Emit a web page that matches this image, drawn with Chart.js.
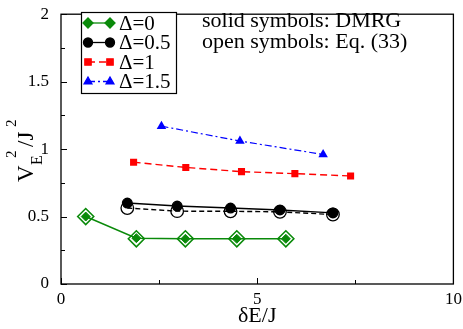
<!DOCTYPE html>
<html>
<head>
<meta charset="utf-8">
<script src="https://cdn.jsdelivr.net/npm/chart.js@4"></script>
<style>
html,body{margin:0;padding:0;background:#fff;}
#wrap{width:463px;height:329px;}
</style>
</head>
<body>
<div id="wrap"><canvas id="c" width="463" height="329"></canvas></div>
<script>
// data
const seriesLabels = ['Δ=0','Δ=0.5','Δ=1','Δ=1.5'];
const dE0 = [0.63,1.92,3.17,4.48,5.73];
const v0Dmrg = [0.50,0.34,0.335,0.335,0.335];
const v0Eq = [0.50,0.335,0.335,0.335,0.335];
const dE05 = [1.69,2.96,4.32,5.58,6.93];
const v05Dmrg = [0.60,0.578,0.563,0.549,0.527];
const v05Eq = [0.563,0.54,0.539,0.535,0.515];
const dE1 = [1.85,3.18,4.60,5.96,7.38];
const v1Dmrg = [0.903,0.864,0.833,0.818,0.801];
const dE15 = [2.56,4.56,6.68];
const v15Dmrg = [1.17,1.06,0.96];
const xTicks = [0,5,10];
const yTicks = [0,0.5,1,1.5,2];
const notes = ['solid symbols: DMRG','open symbols: Eq. (33)'];

const SERIF = '"Liberation Serif","DejaVu Serif",serif';
const GREEN = '#0a8a0a';

function pts(xs,ys){ return xs.map((x,i)=>({x:x,y:ys[i]})); }

const datasets = [
  {label:seriesLabels[0]+' eq',data:pts(dE0,v0Eq),showLine:false,pointStyle:'rectRot',pointRadius:8,
   borderColor:GREEN,backgroundColor:'rgba(0,0,0,0)',pointBorderWidth:1.6},
  {label:seriesLabels[0],data:pts(dE0,v0Dmrg),showLine:true,pointStyle:'rectRot',pointRadius:4.5,
   borderColor:GREEN,backgroundColor:GREEN,borderWidth:1.5,pointBorderWidth:1},
  {label:seriesLabels[1]+' eq',data:pts(dE05,v05Eq),showLine:true,pointStyle:'circle',pointRadius:6.3,
   borderColor:'#000',backgroundColor:'rgba(0,0,0,0)',borderWidth:1.4,borderDash:[5,3],pointBorderWidth:1.3},
  {label:seriesLabels[1],data:pts(dE05,v05Dmrg),showLine:true,pointStyle:'circle',pointRadius:4.8,
   borderColor:'#000',backgroundColor:'#000',borderWidth:1.4},
  {label:seriesLabels[2],data:pts(dE1,v1Dmrg),showLine:true,pointStyle:'rect',pointRadius:5,
   borderColor:'#ff0000',backgroundColor:'#ff0000',borderWidth:1.4,borderDash:[7,4],pointBorderWidth:0},
  {label:seriesLabels[3],data:pts(dE15,v15Dmrg),showLine:true,pointStyle:'triangle',pointRadius:5.5,
   borderColor:'#0000ff',backgroundColor:'#0000ff',borderWidth:1.2,borderDash:[7,3,2,3],pointBorderWidth:0}
];
datasets.forEach(d=>{d.pointBorderColor=d.borderColor;d.pointBackgroundColor=d.backgroundColor;});

const frame = {
  id:'frame',
  afterDraw(ch){
    const ctx=ch.ctx, a=ch.chartArea, xs=ch.scales.x, ys=ch.scales.y;
    ctx.save();
    ctx.strokeStyle='#000'; ctx.lineWidth=1.3; ctx.setLineDash([]);
    ctx.strokeRect(a.left,a.top,a.right-a.left,a.bottom-a.top);
    ctx.lineWidth=1;
    for(let v=0;v<=10;v+=2.5){
      const x=Math.round(xs.getPixelForValue(v))+0.5, L=(v%5===0)?6:4;
      ctx.beginPath();ctx.moveTo(x,a.bottom);ctx.lineTo(x,a.bottom-L);ctx.stroke();
    }
    for(let v=0;v<=2;v+=0.25){
      const y=Math.round(ys.getPixelForValue(v))+0.5, L=(Math.abs(v*2-Math.round(v*2))<1e-6)?6:4;
      ctx.beginPath();ctx.moveTo(a.left,y);ctx.lineTo(a.left+L,y);ctx.stroke();
    }
    // y title V_E^2/J^2
    ctx.translate(33,182); ctx.rotate(-Math.PI/2);
    ctx.fillStyle='#000'; ctx.textBaseline='alphabetic';
    ctx.font='23px '+SERIF; ctx.fillText('V',0,0);
    ctx.font='16px '+SERIF; ctx.fillText('E',17,9);
    ctx.font='15px '+SERIF; ctx.fillText('2',24,-17);
    ctx.font='23px '+SERIF; ctx.fillText('/J',35,0);
    ctx.font='15px '+SERIF; ctx.fillText('2',55,-17);
    ctx.restore();

    // legend box
    ctx.save();
    const bx=81, by=12, bw=95, bh=81;
    ctx.fillStyle='#fff'; ctx.fillRect(bx,by,bw,bh);
    ctx.strokeStyle='#000'; ctx.lineWidth=1.2; ctx.strokeRect(bx+0.5,by+0.5,bw,bh);
    const order=[1,3,4,5];
    order.forEach((di,i)=>{
      const d=datasets[di], y=by+11+i*19.5;
      ctx.strokeStyle=d.borderColor; ctx.lineWidth=1.3;
      ctx.setLineDash(d.borderDash||[]);
      ctx.beginPath();ctx.moveTo(88,y);ctx.lineTo(110,y);ctx.stroke();
      ctx.setLineDash([]);
      const opt={pointStyle:d.pointStyle,radius:d.pointStyle==='rectRot'?5:4.5,borderWidth:1};
      ctx.fillStyle=d.backgroundColor; ctx.strokeStyle=d.borderColor;
      Chart.helpers.drawPoint(ctx,opt,88,y);
      Chart.helpers.drawPoint(ctx,opt,110,y);
      ctx.fillStyle='#000'; ctx.font='21px '+SERIF; ctx.textBaseline='middle';
      ctx.fillText(seriesLabels[i],119,y+1);
    });
    ctx.font='22px '+SERIF; ctx.textBaseline='middle';
    ctx.fillText(notes[0],202,21);
    ctx.fillText(notes[1],202,42);
    ctx.restore();
  }
};

new Chart(document.getElementById('c'),{
  type:'scatter',
  data:{datasets:datasets},
  options:{
    responsive:false,animation:false,
    layout:{padding:{top:7,right:7,left:0,bottom:0}},
    plugins:{legend:{display:false},tooltip:{enabled:false}},
    scales:{
      x:{type:'linear',min:0,max:10,
        afterBuildTicks:s=>{s.ticks=xTicks.map(v=>({value:v}));},
        afterFit:s=>{s.height=45;},
        grid:{display:false},border:{display:false},
        ticks:{color:'#000',font:{family:SERIF,size:17},padding:-3,maxRotation:0,callback:v=>String(v)},
        title:{display:true,text:'δE/J',color:'#000',font:{family:SERIF,size:22},padding:{top:-6,bottom:0}}},
      y:{type:'linear',min:0,max:2,
        afterBuildTicks:s=>{s.ticks=yTicks.map(v=>({value:v}));},
        afterFit:s=>{s.width=61;},
        grid:{display:false},border:{display:false},
        ticks:{color:'#000',font:{family:SERIF,size:17},padding:4,callback:v=>String(v)}}
    }
  },
  plugins:[frame]
});
</script>
</body>
</html>
